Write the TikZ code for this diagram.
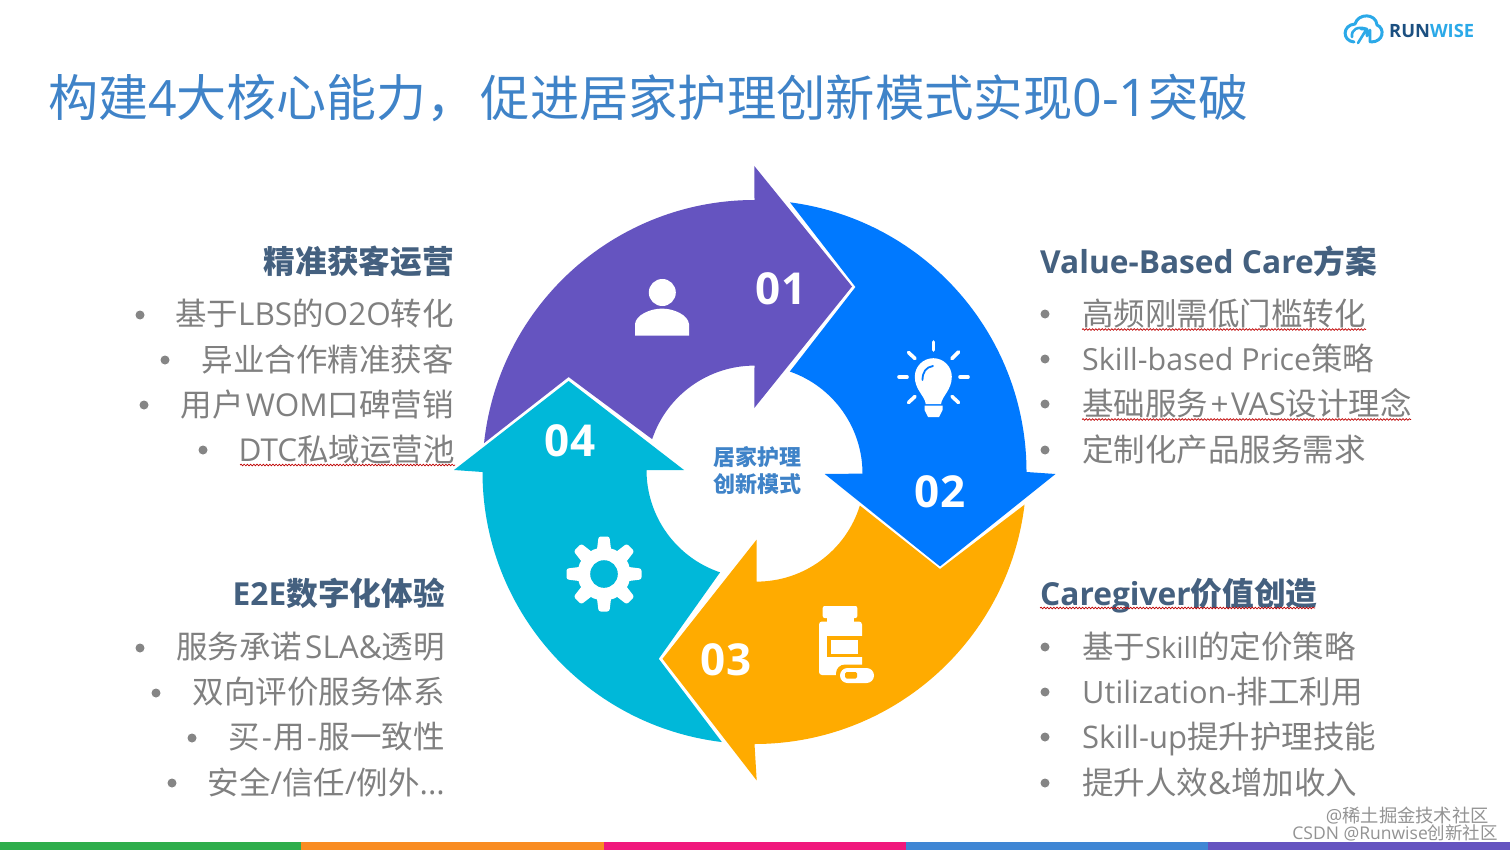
\documentclass[tikz,border=0pt]{standalone}
\usepackage{fontspec}
\setmainfont{Open Sans}
\newfontfamily\cjk{Noto Sans CJK SC}
\usetikzlibrary{calc,decorations.pathmorphing}
\newcommand{\C}[1]{{\cjk #1}}
\definecolor{cpurple}{HTML}{6554C0}
\definecolor{cblue}{HTML}{0079FF}
\definecolor{corange}{HTML}{FFAB00}
\definecolor{cteal}{HTML}{00B8D9}
\definecolor{ctitle}{HTML}{3F83C8}
\definecolor{chead}{HTML}{44607F}
\definecolor{cbody}{HTML}{808080}
\definecolor{cbullet}{HTML}{858585}
\definecolor{barg}{HTML}{2EAD4B}
\definecolor{baro}{HTML}{F98C22}
\definecolor{barp}{HTML}{F0187C}
\definecolor{barb}{HTML}{3F86D4}
\definecolor{logoa}{HTML}{1B4F80}
\definecolor{logob}{HTML}{2BA9E8}
\tikzset{
  titletext/.style={inner sep=0,text=ctitle,font=\fontsize{50}{56}\selectfont},
  headtext/.style={inner sep=0,text=chead,font=\fontsize{31.7}{36}\selectfont\bfseries},
  bodyl/.style={inner sep=0,text=cbody,anchor=base east,font=\fontsize{31.5}{36}\selectfont},
  bodyr/.style={inner sep=0,text=cbody,anchor=base west,font=\fontsize{31.5}{36}\selectfont},
  numtext/.style={inner sep=0,text=white,font=\fontsize{44}{50}\selectfont\bfseries},
  bul/.style={circle,fill=cbullet,inner sep=0,minimum size=9pt},
  wavy/.style={draw=red!75!black,line width=.7pt,decorate,decoration={snake,amplitude=.8pt,segment length=3.2pt}},
  ray/.style={draw=white,line width=3.6pt,line cap=round},
  centertext/.style={inner sep=0,text=ctitle,align=center,font=\fontsize{22}{27}\selectfont\bfseries},
  mark text/.style={inner sep=0,text=gray!85,font=\fontsize{17.5}{20}\selectfont}
}
\begin{document}
\begin{tikzpicture}[x=1pt,y=1pt,yscale=-1]
\useasboundingbox (0,0) rectangle (1512,850);
\fill[white] (0,0) rectangle (1512,850);
\coordinate (CO) at (754.5,472);
\coordinate (CI) at (754.5,473.6);
% bottom bar
\fill[barg] (0,842) rectangle (301,850);
\fill[baro] (301,842) rectangle (604,850);
\fill[barp] (604,842) rectangle (906,850);
\fill[barb] (906,842) rectangle (1208,850);
\fill[cpurple] (1208,842) rectangle (1510,850);
% title
\node[titletext,anchor=base west] (title) at (48,117) {\C{构建}4\C{大核心能力，}\hspace{4pt}{\fontsize{49.3}{56}\selectfont\C{促进居家护理创新模式实现}}{\fontsize{52}{56}\selectfont 0-1}\C{突破}};
% arrows
\fill[cpurple] ($(CO)+(186.1:272)$) arc[start angle=186.1,end angle=270,radius=272] -- (754.3,166) -- (852,286.5) -- (754.3,408) -- (754.5,365.6) arc[start angle=270,end angle=198.6,radius=108] -- (568.6,377) -- cycle;
\fill[cblue] ($(CO)+(277.5:272)$) arc[start angle=277.5,end angle=360,radius=272] -- (1055.5,474) -- (940,566.4) -- (824.7,474) -- (862.5,473.6) arc[start angle=360,end angle=289.1,radius=108] -- (855.5,287) -- cycle;
\fill[corange] ($(CO)+(6.9:272)$) arc[start angle=6.9,end angle=90,radius=272] -- (756.7,780.5) -- (662.5,658.8) -- (756.7,539.5) -- (756.7,581.6) arc[start angle=90,end angle=17.2,radius=108] -- (940,569) -- cycle;
\fill[cteal] ($(CO)+(96.9:272)$) arc[start angle=96.9,end angle=180,radius=272] -- (454,470) -- (568.6,381) -- (684,470) -- (646.5,470) arc[start angle=180,end angle=108.6,radius=108] -- (658.7,658.8) -- cycle;
% numbers
\node[numtext] (n1) at (781,289) {01};
\node[numtext] (n2) at (940,492) {02};
\node[numtext] (n3) at (726,660) {03};
\node[numtext] (n4) at (570,441) {04};
% centre
\node[centertext] (ctr) at (757,470.5) {\C{居家护理}\\\C{创新模式}};
% person icon
\fill[white] (662.3,292.5) circle[radius=13.5];
\fill[white] (635,335.5) -- (635,324) .. controls (636,315) and (650,308.6) .. (662,308.6) .. controls (674,308.6) and (688,315) .. (689,324) -- (689,335.5) -- cycle;
% bulb icon
\draw[ray] (933.3,342) -- (933.3,350);
\draw[ray] (899,377) -- (907,377);
\draw[ray] (960,377) -- (968,377);
\draw[ray] (908.5,352.5) -- (915,358.5);
\draw[ray] (952,358.5) -- (958.5,352);
\draw[ray] (952,396.5) -- (958.5,402.5);
\draw[ray] (908.5,402.5) -- (915,396.5);
\fill[white] (925.7,404) .. controls (925,396) and (914.8,390) .. (914.8,376.7) arc[start angle=180,end angle=360,radius=18.5] .. controls (951.8,390) and (942,396) .. (941,404) -- cycle;
\fill[white] (924.5,405.5) -- (942.5,405.5) -- (942.5,410) -- (939,417) -- (928,417) -- (924.5,410) -- cycle;
\draw[cblue,line width=1.8pt,line cap=round] (922.5,380) .. controls (922.5,372) and (926,367) .. (933,366);
% gear icon
\foreach \a in {0,45,...,315}{
  \fill[white,rounded corners=2.2pt,shift={(604,574)},rotate=\a] (-7.6,-20) -- (-5.4,-37.5) -- (5.4,-37.5) -- (7.6,-20) -- cycle;
}
\fill[white] (604,574) circle[radius=26.5];
\fill[cteal] (604,574) circle[radius=13.8];
% bottle icon
\fill[white,rounded corners=2pt] (822.7,606) rectangle (857.3,618);
\fill[white] (826.5,616) rectangle (853.5,624);
\fill[white,rounded corners=3pt] (819,621.5) rectangle (862,675);
\fill[corange] (827,636) rectangle (862.5,657);
\fill[white] (830.7,639.5) rectangle (858,653.5);
\fill[corange,rounded corners=9pt] (836,664.5) rectangle (878,687);
\fill[white,rounded corners=7.5pt] (840,668) rectangle (874,683);
\fill[corange,rounded corners=1.5pt] (845,672) rectangle (857,678.5);
% logo
\draw[draw=logob,line width=3pt,line cap=round,line join=round]
 (1354,42) .. controls (1342,41) and (1342,25) .. (1355,24) .. controls (1358,13) and (1376,13) .. (1377,25) .. controls (1385,28) and (1384,42) .. (1371,42);
\draw[draw=logob,line width=2.6pt,line cap=round,line join=round]
 (1352,37) .. controls (1351,29) and (1358,26) .. (1367,29) (1358,43) -- (1366,30) (1361,29) -- (1367,29) -- (1367,36) (1370,42) -- (1370,30);
\node[inner sep=0,anchor=base west,font=\fontsize{18.3}{22}\selectfont\bfseries] (logo) at (1389,37.8) {\textcolor{logoa}{RUN}\textcolor{logob}{WISE}};
% top-left
\node[headtext,anchor=base east] (h1) at (454,273) {\C{精准获客运营}};
\node[bodyl] (a1) at (454,325.5) {\C{基于}LBS\C{的}O2O\C{转化}};
\node[bodyl] (a2) at (454,371) {\C{异业合作精准获客}};
\node[bodyl] (a3) at (454,416) {\C{用户}\hspace{2pt}WOM\C{口碑营销}};
\node[bodyl] (a4) at (455,461.5) {DTC\C{私域运营池}};
\node[bul] at (140,315) {}; \node[bul] at (165,360) {}; \node[bul] at (144,405) {}; \node[bul] at (203,450) {};
\draw[wavy] (240,465) -- (455,465);
% bottom-left
\node[headtext,anchor=base east] (h4) at (445,605) {E2E\C{数字化体验}};
\node[bodyl] (d1) at (445,658) {\C{服务承诺}\hspace{3pt}SLA\&\C{透明}};
\node[bodyl] (d2) at (445,703.5) {\C{双向评价服务体系}};
\node[bodyl] (d3) at (445,748.5) {\C{买}\hspace{1.7pt}-\hspace{1.7pt}\C{用}\hspace{1.7pt}-\hspace{1.7pt}\C{服一致性}};
\node[bodyl] (d4) at (445,794) {\C{安全}/\C{信任}/\C{例外}...};
\node[bul] at (140,648) {}; \node[bul] at (156,693) {}; \node[bul] at (192,738) {}; \node[bul] at (172,783) {};
% top-right
\node[headtext,anchor=base west] (h2) at (1040,273) {Value-Based Care\C{方案}};
\node[bodyr] (b1) at (1082,325.5) {\C{高频刚需低门槛转化}};
\node[bodyr] (b2) at (1082,370.5) {{\fontsize{30.4}{36}\selectfont Skill-based Price}\C{策略}};
\node[bodyr] (b3) at (1082,415.5) {\C{基础服务}\hspace{2.5pt}+\hspace{2.5pt}VAS\C{设计理念}};
\node[bodyr] (b4) at (1082,461.5) {\C{定制化产品服务需求}};
\foreach \y in {314,359,404,450}{\node[bul] at (1045,\y) {};}
\draw[wavy] (1082,329.5) -- (1366,329.5);
\draw[wavy] (1082,419.5) -- (1411,419.5);
% bottom-right
\node[headtext,anchor=base west] (h3) at (1040,605) {Caregiver\C{价值创造}};
\node[bodyr] (c1) at (1082,658) {\C{基于}{\fontsize{29}{36}\selectfont Skill}\C{的定价策略}};
\node[bodyr] (c2) at (1082,703) {{\fontsize{30.8}{36}\selectfont Utilization-}\C{排工利用}};
\node[bodyr] (c3) at (1082,748.5) {{\fontsize{31}{36}\selectfont Skill-up}\C{提升护理技能}};
\node[bodyr] (c4) at (1082,794) {\C{提升人效}\&\C{增加收入}};
\foreach \y in {647,692,737,783}{\node[bul] at (1045,\y) {};}
\draw[wavy] (1040,608) -- (1315,608);
% watermark
\node[mark text,anchor=base east,font=\fontsize{18.3}{20}\selectfont] (w1) at (1489,822) {@\C{稀土掘金技术社区}};
\node[mark text,anchor=base east] (w2) at (1498,839) {CSDN @Runwise\C{创新社区}};
\end{tikzpicture}
\end{document}
